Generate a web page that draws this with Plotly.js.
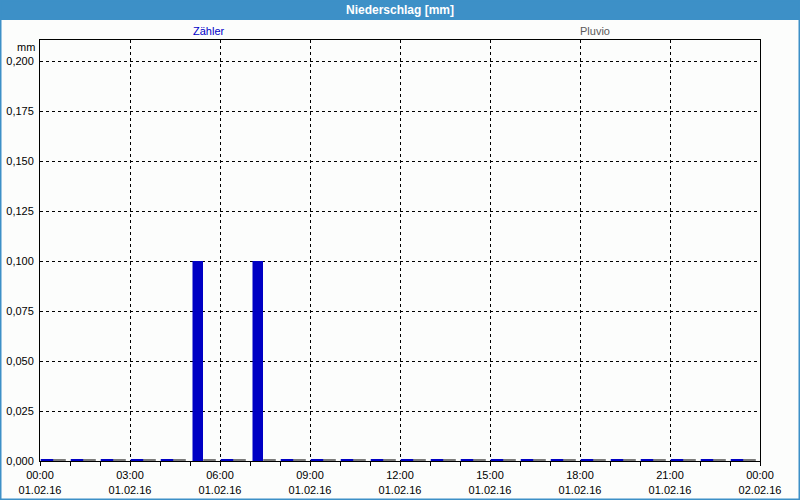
<!DOCTYPE html>
<html>
<head>
<meta charset="utf-8">
<script src="https://cdn.plot.ly/plotly-3.0.1.min.js"></script>
<style>html,body{margin:0;padding:0;background:#fcfdfc;}#chart{width:800px;height:500px;}</style>
</head>
<body>
<div id="chart"></div>
<script>
// Hourly bins (start of each hour), 01.02.16
const hours = ['2016-02-01 00:00','2016-02-01 01:00','2016-02-01 02:00','2016-02-01 03:00','2016-02-01 04:00','2016-02-01 05:00','2016-02-01 06:00','2016-02-01 07:00','2016-02-01 08:00','2016-02-01 09:00','2016-02-01 10:00','2016-02-01 11:00','2016-02-01 12:00','2016-02-01 13:00','2016-02-01 14:00','2016-02-01 15:00','2016-02-01 16:00','2016-02-01 17:00','2016-02-01 18:00','2016-02-01 19:00','2016-02-01 20:00','2016-02-01 21:00','2016-02-01 22:00','2016-02-01 23:00'];
const zaehler = [0,0,0,0,0,0.1,0,0.1,0,0,0,0,0,0,0,0,0,0,0,0,0,0,0,0];
const pluvio  = [0,0,0,0,0,0,0,0,0,0,0,0,0,0,0,0,0,0,0,0,0,0,0,0];
const tickTimes = ['2016-02-01 00:00','2016-02-01 03:00','2016-02-01 06:00','2016-02-01 09:00','2016-02-01 12:00','2016-02-01 15:00','2016-02-01 18:00','2016-02-01 21:00','2016-02-02 00:00'];
const tickTimeText = ['00:00','03:00','06:00','09:00','12:00','15:00','18:00','21:00','00:00'];
const tickDateText = ['01.02.16','01.02.16','01.02.16','01.02.16','01.02.16','01.02.16','01.02.16','01.02.16','02.02.16'];
const seriesNames = ['Zähler','Pluvio'];

const MIN = 60000;
const BLUE = '#0000c4', GRAY = '#7a7a7a', FRAME = '#3d90c7';
const blueOff = 5*MIN, blueW = 21*MIN, grayOff = 30*MIN, grayW = 18*MIN;

function shift(t, ms){ return new Date(new Date(t.replace(' ','T')+'Z').getTime()+ms).toISOString().replace('T',' ').slice(0,19); }
function zeroMarks(vals, off, w){
  const xs=[], ys=[];
  vals.forEach((v,i)=>{ if(v===0){ xs.push(shift(hours[i], off+w/2)); ys.push(v);} });
  return {xs, ys};
}
const zb = zeroMarks(zaehler, blueOff, blueW);
const zg = zeroMarks(pluvio, grayOff, grayW);

const traces = [
  {type:'bar', x:hours, y:zaehler, name:seriesNames[0], offset:blueOff, width:blueW, marker:{color:BLUE}, hoverinfo:'skip'},
  {type:'bar', x:hours, y:pluvio, name:seriesNames[1], offset:grayOff, width:grayW, marker:{color:GRAY}, hoverinfo:'skip'},
  {type:'scatter', mode:'markers', x:zb.xs, y:zb.ys, marker:{symbol:'line-ew', size:10, line:{color:BLUE, width:4}}, hoverinfo:'skip', showlegend:false},
  {type:'scatter', mode:'markers', x:zg.xs, y:zg.ys, marker:{symbol:'line-ew', size:9, line:{color:GRAY, width:4}}, hoverinfo:'skip', showlegend:false}
];

const FONT = 'Liberation Sans, Arial, sans-serif';
const layout = {
  width:800, height:500,
  margin:{l:40, r:40, t:40, b:39, pad:0},
  paper_bgcolor:'#fcfdfc', plot_bgcolor:'#fcfdfc',
  font:{family:FONT, size:11, color:'#000'},
  showlegend:false,
  barmode:'overlay',
  separators:',.',
  title:{text:'<b>Niederschlag [mm]</b>', font:{family:FONT, size:12, color:'#ffffff'}, x:0.5, xanchor:'center', y:0.98, yanchor:'middle', yref:'container'},
  xaxis:{
    type:'date', range:['2016-02-01 00:00','2016-02-02 00:00'],
    tickmode:'array', tickvals:tickTimes,
    ticktext:tickTimeText.map((t,i)=>t+'<br>'+tickDateText[i]),
    ticks:'outside', ticklen:4, tickcolor:'#000', tickwidth:1,
    minor:{dtick:3600000, ticks:'outside', ticklen:4, tickcolor:'#000', showgrid:false},
    showgrid:true, gridcolor:'#000', gridwidth:1, griddash:'3px,3px',
    showline:true, linecolor:'#000', linewidth:1, mirror:true,
    zeroline:false, fixedrange:true, tickangle:0
  },
  yaxis:{
    range:[0,0.2105], tickmode:'linear', tick0:0, dtick:0.025, tickformat:'.3f',
    ticks:'', ticklabelstandoff:3,
    showgrid:true, gridcolor:'#000', gridwidth:1, griddash:'3px,3px',
    showline:true, linecolor:'#000', linewidth:1, mirror:true,
    zeroline:false, fixedrange:true
  },
  shapes:[
    {type:'rect', layer:'below', xref:'paper', yref:'paper', xsizemode:'pixel', ysizemode:'pixel', xanchor:0, yanchor:1,
     x0:-41, x1:761, y0:20, y1:41, fillcolor:FRAME, line:{width:0}},
    {type:'rect', layer:'above', xref:'paper', yref:'paper', xsizemode:'pixel', ysizemode:'pixel', xanchor:0, yanchor:1,
     x0:-40, x1:760, y0:-421-39, y1:40, fillcolor:'rgba(0,0,0,0)', line:{color:FRAME, width:3}}
  ],
  annotations:[
    {text:'mm', xref:'paper', yref:'paper', x:0, y:1, xanchor:'right', yanchor:'top', xshift:-3, yshift:1, showarrow:false, font:{family:FONT, size:11, color:'#000'}},
    {text:seriesNames[0], xref:'paper', yref:'paper', x:(209-40)/720, y:1, xanchor:'center', yanchor:'bottom', yshift:1, showarrow:false, font:{family:FONT, size:11, color:'#0000c8'}},
    {text:seriesNames[1], xref:'paper', yref:'paper', x:(595-40)/720, y:1, xanchor:'center', yanchor:'bottom', yshift:1, showarrow:false, font:{family:FONT, size:11, color:'#5a5a5a'}}
  ]
};
Plotly.newPlot('chart', traces, layout, {staticPlot:true, displayModeBar:false});
</script>
</body>
</html>
